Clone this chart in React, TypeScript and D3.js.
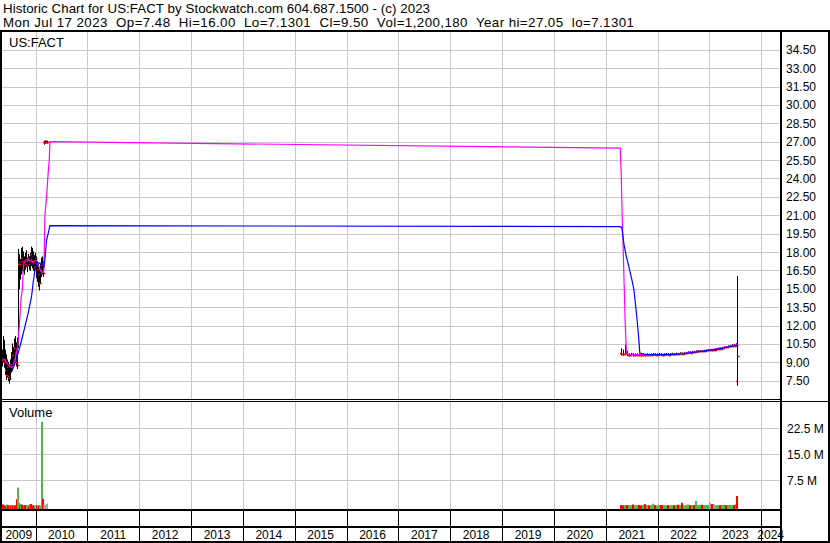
import React, {useEffect, useRef} from 'react';
import * as d3 from 'd3';

const headerLines = [
  'Historic Chart for US:FACT by Stockwatch.com 604.687.1500 - (c) 2023',
  'Mon Jul 17 2023  Op=7.48  Hi=16.00  Lo=7.1301  Cl=9.50  Vol=1,200,180  Year hi=27.05  lo=7.1301',
];
const headerWidths = [427, 631];
const symbol = 'US:FACT';
const years = [2009, 2010, 2011, 2012, 2013, 2014, 2015, 2016, 2017, 2018, 2019, 2020, 2021, 2022, 2023, 2024];
const priceTicks = [34.5, 33, 31.5, 30, 28.5, 27, 25.5, 24, 22.5, 21, 19.5, 18, 16.5, 15, 13.5, 12, 10.5, 9, 7.5];
const volumeTicks = [7.5, 15, 22.5]; // millions

// date, open, high, low, close, volume (millions)
const priceBars: [string, number, number, number, number, number][] = [
  ['2009-05-01', 9.5, 10.3, 8.9, 9.8, 0.4],
  ['2009-05-08', 9.8, 10.0, 8.7, 9.2, 0.1],
  ['2009-05-15', 9.2, 11.1, 9.0, 9.1, 0.4],
  ['2009-05-22', 9.1, 10.8, 8.6, 9.0, 0.08],
  ['2009-05-29', 9.0, 10.0, 8.0, 8.4, 0.06],
  ['2009-06-05', 8.4, 9.6, 7.6, 8.0, 0.05],
  ['2009-06-12', 8.0, 9.2, 7.8, 8.6, 0.35],
  ['2009-06-19', 8.6, 9.0, 7.5, 7.9, 0.08],
  ['2009-06-26', 7.9, 8.8, 7.3, 7.7, 0.15],
  ['2009-07-03', 7.7, 9.2, 7.6, 8.9, 0.06],
  ['2009-07-10', 8.9, 9.8, 8.2, 8.6, 0.05],
  ['2009-07-17', 8.6, 10.5, 8.4, 9.6, 0.2],
  ['2009-07-24', 9.6, 10.2, 8.6, 9.0, 0.06],
  ['2009-07-31', 9.0, 10.9, 8.8, 10.2, 0.2],
  ['2009-08-07', 10.2, 11.1, 9.4, 9.8, 0.08],
  ['2009-08-14', 9.8, 10.6, 8.7, 9.0, 0.06],
  ['2009-08-21', 9.0, 11.0, 8.5, 8.8, 1.9],
  ['2009-08-28', 10.6, 18.2, 10.2, 17.0, 5.3],
  ['2009-09-04', 17.0, 17.8, 15.0, 17.2, 0.9],
  ['2009-09-11', 17.2, 17.4, 15.8, 17.0, 0.1],
  ['2009-09-18', 17.0, 18.3, 16.2, 17.5, 0.5],
  ['2009-09-25', 17.5, 18.4, 16.5, 17.3, 0.3],
  ['2009-10-02', 17.3, 18.0, 16.4, 16.9, 0.08],
  ['2009-10-09', 16.9, 17.6, 16.2, 17.2, 0.06],
  ['2009-10-16', 17.2, 17.9, 16.6, 17.0, 0.2],
  ['2009-10-23', 17.0, 18.1, 16.8, 16.9, 0.2],
  ['2009-10-30', 16.9, 17.5, 16.4, 17.3, 0.06],
  ['2009-11-06', 17.3, 17.8, 16.9, 17.5, 0.05],
  ['2009-11-13', 17.5, 17.6, 16.6, 17.0, 0.06],
  ['2009-11-20', 17.0, 17.9, 16.5, 17.8, 0.5],
  ['2009-11-27', 17.8, 18.4, 16.9, 17.4, 0.5],
  ['2009-12-04', 17.4, 18.3, 16.7, 17.2, 0.06],
  ['2009-12-11', 17.2, 18.0, 16.5, 17.1, 0.1],
  ['2009-12-18', 17.1, 17.7, 16.2, 16.8, 0.05],
  ['2009-12-25', 16.8, 17.9, 16.6, 17.5, 0.04],
  ['2010-01-01', 17.5, 17.6, 16.3, 17.1, 0.05],
  ['2010-01-08', 17.1, 17.4, 15.9, 17.1, 0.2],
  ['2010-01-15', 17.1, 17.2, 15.6, 16.6, 0.06],
  ['2010-01-22', 16.6, 17.0, 15.2, 16.6, 0.2],
  ['2010-01-29', 16.2, 16.6, 14.9, 15.5, 0.06],
  ['2010-02-05', 15.5, 17.0, 15.5, 16.5, 0.05],
  ['2010-02-12', 16.5, 17.5, 16.0, 16.9, 0.08],
  ['2010-02-19', 16.9, 17.6, 16.2, 17.0, 24.4],
  ['2010-02-26', 17.0, 17.2, 16.0, 16.3, 2.0],
  ['2010-03-05', 27.0, 27.05, 26.8, 27.0, 0.3],
  ['2010-03-12', 27.0, 27.05, 26.9, 27.0, 0.1],
  ['2010-03-19', 27.0, 27.05, 26.9, 27.0, 0.3],
  ['2010-03-26', 27.0, 27.05, 26.9, 27.0, 0.6],
  ['2021-04-16', 9.75, 10.1, 9.6, 9.7, 0.2],
  ['2021-04-30', 9.7, 10.0, 9.58, 9.66, 0.15],
  ['2021-05-14', 9.66, 10.4, 9.62, 9.72, 0.25],
  ['2021-05-28', 9.72, 9.9, 9.55, 9.6, 0.2],
  ['2021-06-11', 9.6, 9.7, 9.52, 9.62, 0.25],
  ['2021-06-25', 9.62, 9.72, 9.55, 9.64, 0.18],
  ['2021-07-09', 9.64, 9.7, 9.5, 9.57, 0.4],
  ['2021-07-23', 9.57, 9.68, 9.54, 9.6, 0.2],
  ['2021-08-06', 9.6, 9.7, 9.55, 9.62, 0.18],
  ['2021-08-20', 9.62, 9.66, 9.52, 9.58, 0.22],
  ['2021-09-03', 9.58, 9.65, 9.5, 9.56, 0.15],
  ['2021-09-17', 9.56, 9.68, 9.54, 9.61, 0.2],
  ['2021-10-01', 9.61, 9.66, 9.52, 9.58, 0.5],
  ['2021-10-15', 9.58, 9.7, 9.56, 9.62, 0.2],
  ['2021-10-29', 9.62, 9.67, 9.55, 9.59, 0.15],
  ['2021-11-12', 9.59, 9.68, 9.56, 9.6, 0.18],
  ['2021-11-26', 9.6, 9.72, 9.58, 9.65, 0.6],
  ['2021-12-10', 9.65, 9.68, 9.55, 9.6, 0.2],
  ['2021-12-24', 9.6, 9.7, 9.57, 9.63, 0.15],
  ['2022-01-07', 9.63, 9.72, 9.58, 9.64, 0.2],
  ['2022-01-21', 9.64, 9.68, 9.56, 9.61, 0.22],
  ['2022-02-04', 9.61, 9.66, 9.55, 9.6, 0.18],
  ['2022-02-18', 9.6, 9.7, 9.58, 9.64, 0.2],
  ['2022-03-04', 9.64, 9.72, 9.6, 9.66, 0.15],
  ['2022-03-18', 9.66, 9.7, 9.58, 9.62, 0.2],
  ['2022-04-01', 9.62, 9.72, 9.6, 9.65, 0.18],
  ['2022-04-15', 9.65, 9.74, 9.62, 9.67, 0.2],
  ['2022-04-29', 9.67, 9.72, 9.6, 9.65, 0.15],
  ['2022-05-13', 9.65, 9.75, 9.63, 9.69, 0.25],
  ['2022-05-27', 9.69, 9.74, 9.64, 9.68, 0.3],
  ['2022-06-10', 9.68, 9.78, 9.66, 9.72, 0.25],
  ['2022-06-24', 9.72, 9.76, 9.64, 9.7, 0.9],
  ['2022-07-08', 9.7, 9.8, 9.68, 9.75, 0.2],
  ['2022-07-22', 9.75, 9.82, 9.7, 9.78, 0.2],
  ['2022-08-05', 9.78, 9.85, 9.74, 9.81, 0.4],
  ['2022-08-19', 9.81, 9.86, 9.76, 9.8, 0.2],
  ['2022-09-02', 9.8, 9.9, 9.78, 9.85, 0.22],
  ['2022-09-16', 9.85, 9.9, 9.8, 9.84, 0.2],
  ['2022-09-30', 9.84, 9.94, 9.82, 9.89, 1.4],
  ['2022-10-14', 9.89, 9.94, 9.84, 9.9, 0.25],
  ['2022-10-28', 9.9, 9.96, 9.86, 9.92, 0.3],
  ['2022-11-11', 9.92, 9.96, 9.87, 9.91, 0.3],
  ['2022-11-25', 9.91, 9.99, 9.89, 9.95, 0.22],
  ['2022-12-09', 9.95, 10.0, 9.92, 9.97, 0.2],
  ['2022-12-23', 9.97, 10.02, 9.93, 9.98, 0.25],
  ['2023-01-06', 9.98, 10.04, 9.95, 9.98, 0.9],
  ['2023-01-20', 9.98, 10.05, 9.94, 9.97, 0.5],
  ['2023-02-03', 9.97, 10.06, 9.95, 9.97, 0.5],
  ['2023-02-17', 9.97, 10.12, 9.96, 10.08, 0.2],
  ['2023-03-03', 10.08, 10.16, 10.05, 10.12, 0.18],
  ['2023-03-17', 10.12, 10.18, 10.08, 10.11, 0.2],
  ['2023-03-31', 10.11, 10.22, 10.09, 10.18, 0.25],
  ['2023-04-14', 10.18, 10.25, 10.14, 10.22, 0.3],
  ['2023-04-28', 10.22, 10.28, 10.18, 10.21, 0.2],
  ['2023-05-12', 10.21, 10.34, 10.2, 10.3, 0.22],
  ['2023-05-26', 10.3, 10.38, 10.27, 10.33, 0.3],
  ['2023-06-09', 10.33, 10.44, 10.3, 10.37, 0.2],
  ['2023-06-23', 10.37, 10.48, 10.35, 10.36, 0.25],
  ['2023-07-07', 10.36, 10.52, 10.34, 10.45, 0.5],
  ['2023-07-17', 7.48, 16.0, 7.1301, 9.5, 2.85],
];

// short moving average (magenta)
const shortAverage: [string, number][] = [
  ['2009-05-14', 9.3], ['2009-05-31', 9.2], ['2009-06-21', 8.8], ['2009-07-12', 8.6],
  ['2009-07-26', 8.6], ['2009-08-09', 9.2], ['2009-08-30', 10.4], ['2009-09-13', 12.7],
  ['2009-09-20', 14.1], ['2009-10-01', 15.0], ['2009-10-06', 16.5], ['2009-10-11', 17.1],
  ['2009-11-01', 17.4], ['2009-11-22', 17.3], ['2009-12-13', 17.2], ['2010-01-04', 17.3],
  ['2010-01-25', 16.8], ['2010-02-15', 16.3], ['2010-03-01', 16.5], ['2010-03-08', 20.9],
  ['2010-03-20', 22.5], ['2010-03-31', 24.4], ['2010-04-08', 25.5], ['2010-04-13', 27.0],
  ['2021-04-12', 26.47], ['2021-04-19', 24.4], ['2021-04-26', 21.0], ['2021-05-03', 18.3],
  ['2021-05-10', 15.3], ['2021-05-17', 12.3], ['2021-05-26', 9.7], ['2021-07-01', 9.62],
  ['2021-10-01', 9.6], ['2022-01-01', 9.62], ['2022-04-01', 9.65], ['2022-07-01', 9.74],
  ['2022-09-15', 9.86], ['2022-12-01', 9.96], ['2023-02-01', 10.07], ['2023-04-01', 10.2],
  ['2023-05-15', 10.3], ['2023-06-15', 10.38], ['2023-07-10', 10.45], ['2023-07-17', 10.4],
];

// long moving average (blue)
const longAverage: [string, number][] = [
  ['2009-07-17', 8.23], ['2009-08-09', 8.9], ['2009-09-01', 9.75], ['2009-09-25', 10.8],
  ['2009-10-18', 11.9], ['2009-11-10', 13.0], ['2009-12-04', 14.35], ['2009-12-15', 15.45],
  ['2009-12-28', 16.5], ['2010-01-09', 17.2], ['2010-01-20', 17.1], ['2010-02-13', 17.1],
  ['2010-03-01', 16.8], ['2010-03-08', 17.35], ['2010-03-20', 19.0], ['2010-03-31', 19.5],
  ['2010-04-13', 20.15], ['2021-04-11', 20.07], ['2021-04-23', 20.0], ['2021-04-30', 19.4],
  ['2021-05-09', 18.6], ['2021-05-23', 17.76], ['2021-06-06', 17.1], ['2021-06-20', 16.4],
  ['2021-07-04', 15.7], ['2021-07-18', 14.9], ['2021-07-28', 13.8], ['2021-08-07', 12.7],
  ['2021-08-16', 11.6], ['2021-08-23', 10.6], ['2021-08-28', 9.75], ['2021-10-01', 9.65],
  ['2022-01-01', 9.62], ['2022-04-01', 9.63], ['2022-07-01', 9.7], ['2022-09-15', 9.82],
  ['2022-12-01', 9.93], ['2023-02-01', 10.03], ['2023-04-01', 10.15], ['2023-05-15', 10.25],
  ['2023-06-15', 10.33], ['2023-07-17', 10.4],
];

const FONT = "'Liberation Sans', Arial, sans-serif";

export default function App() {
  const svgRef = useRef<SVGSVGElement>(null);

  useEffect(() => {
    if (!svgRef.current) return;
    const root = d3.select(svgRef.current);
    root.selectAll('*').remove();

    const W = 830;
    const H = 543;
    const left = 2;
    const right = 780;
    const priceTop = 32;
    const priceBottom = 399;
    const volTop = 402;
    const volBottom = 509;

    const parse = d3.utcParse('%Y-%m-%d');
    const yearDate = (y: number) => new Date(Date.UTC(y, 0, 1));

    const x = d3.scaleUtc().domain([yearDate(2010), yearDate(2024)]).range([35.5, 761.3]);
    const y = d3.scaleLinear().domain([7.5, 27]).range([380.7, 141.7]);
    const yv = d3.scaleLinear().domain([7.5, 22.5]).range([480, 428.4]);

    root.append('rect').attr('width', W).attr('height', H).attr('fill', '#fff');

    const defs = root.append('defs');
    defs.append('clipPath').attr('id', 'price-clip').append('rect')
      .attr('x', left).attr('y', priceTop).attr('width', right - left).attr('height', priceBottom - priceTop);
    defs.append('clipPath').attr('id', 'vol-clip').append('rect')
      .attr('x', left).attr('y', volTop).attr('width', right - left).attr('height', volBottom - volTop);

    // Grid
    const grid = root.append('g').attr('stroke', '#c8c8c8').attr('stroke-width', 1);
    priceTicks.forEach((t) => {
      const yy = Math.round(y(t)) + 0.5;
      grid.append('line').attr('x1', left).attr('x2', right).attr('y1', yy).attr('y2', yy);
    });
    volumeTicks.forEach((t) => {
      const yy = Math.round(yv(t)) + 0.5;
      grid.append('line').attr('x1', left).attr('x2', right).attr('y1', yy).attr('y2', yy);
    });
    years.slice(1).forEach((yr) => {
      const xx = Math.round(x(yearDate(yr))) + 0.5;
      grid.append('line').attr('x1', xx).attr('x2', xx).attr('y1', priceTop).attr('y2', priceBottom);
      grid.append('line').attr('x1', xx).attr('x2', xx).attr('y1', volTop).attr('y2', volBottom);
    });

    // Price bars
    const bars = root.append('g').attr('clip-path', 'url(#price-clip)');
    priceBars.forEach(([d, o, h, l, c]) => {
      const xx = Math.round(x(parse(d)!)) + 0.5;
      bars.append('line').attr('x1', xx).attr('x2', xx)
        .attr('y1', y(h) - 0.5).attr('y2', y(l) + 0.5)
        .attr('stroke', '#000').attr('stroke-width', 1);
      bars.append('line').attr('x1', xx - 1.5).attr('x2', xx)
        .attr('y1', Math.round(y(o)) + 0.5).attr('y2', Math.round(y(o)) + 0.5)
        .attr('stroke', '#ff0000').attr('stroke-width', 1.5);
      bars.append('line').attr('x1', xx).attr('x2', xx + 2)
        .attr('y1', Math.round(y(c)) + 0.5).attr('y2', Math.round(y(c)) + 0.5)
        .attr('stroke', '#ff0000').attr('stroke-width', 1.5);
    });

    // Moving averages
    const line = d3.line<[string, number]>()
      .x((d) => x(parse(d[0])!))
      .y((d) => y(d[1]));
    bars.append('path').datum(shortAverage).attr('d', line)
      .attr('fill', 'none').attr('stroke', '#ff00ff').attr('stroke-width', 1.2);
    bars.append('path').datum(longAverage).attr('d', line)
      .attr('fill', 'none').attr('stroke', '#0000ff').attr('stroke-width', 1.2);

    // Volume
    const vol = root.append('g').attr('clip-path', 'url(#vol-clip)');
    priceBars.forEach(([d, , , , c, v], i) => {
      const prev = i > 0 ? priceBars[i - 1][4] : c - 1;
      const color = c > prev ? '#4cbb4c' : c < prev ? '#ff0000' : '#a8a8a8';
      const xx = Math.round(x(parse(d)!));
      const top = yv(v);
      vol.append('rect').attr('x', xx - 1).attr('width', 2)
        .attr('y', top).attr('height', Math.max(0, volBottom - top))
        .attr('fill', color);
    });

    // Frame
    const frame = root.append('g').attr('fill', '#000');
    frame.append('rect').attr('x', 0).attr('y', 30).attr('width', W).attr('height', 2);
    frame.append('rect').attr('x', 0).attr('y', 30).attr('width', 2).attr('height', H - 30);
    frame.append('rect').attr('x', right).attr('y', 30).attr('width', 2).attr('height', H - 30);
    frame.append('rect').attr('x', W - 2).attr('y', 30).attr('width', 2).attr('height', H - 30);
    frame.append('rect').attr('x', 0).attr('y', H - 2).attr('width', W).attr('height', 2);
    frame.append('rect').attr('x', 0).attr('y', 399).attr('width', right).attr('height', 1);
    frame.append('rect').attr('x', 0).attr('y', 401).attr('width', right).attr('height', 1);
    frame.append('rect').attr('x', right).attr('y', 401).attr('width', W - right).attr('height', 1);
    frame.append('rect').attr('x', 0).attr('y', volBottom).attr('width', right).attr('height', 2);
    frame.append('rect').attr('x', 0).attr('y', 526).attr('width', right).attr('height', 2);
    years.slice(1).forEach((yr) => {
      const xx = Math.round(x(yearDate(yr)));
      frame.append('rect').attr('x', xx).attr('y', 511).attr('width', 1).attr('height', 30);
    });

    // Text
    const text = root.append('g').attr('font-family', FONT).attr('fill', '#000');
    headerLines.forEach((s, i) => {
      text.append('text').attr('x', 3).attr('y', 12.5 + i * 14)
        .attr('font-size', 13.3).style('white-space', 'pre')
        .attr('textLength', headerWidths[i]).attr('lengthAdjust', 'spacing')
        .text(s);
    });
    text.append('text').attr('x', 9).attr('y', 47).attr('font-size', 13).text(symbol);
    text.append('text').attr('x', 9).attr('y', 417).attr('font-size', 13).text('Volume');

    priceTicks.forEach((t) => {
      text.append('text').attr('x', 786).attr('y', y(t) + 4.5)
        .attr('font-size', 12).text(t.toFixed(2));
    });
    volumeTicks.forEach((t) => {
      text.append('text').attr('x', 787).attr('y', yv(t) + 4.5)
        .attr('font-size', 12).text(`${t.toFixed(1)} M`);
    });

    years.forEach((yr) => {
      const a = Math.max(left, x(yearDate(yr)));
      const b = Math.min(right, x(yearDate(yr + 1)));
      text.append('text').attr('x', (a + b) / 2).attr('y', 539)
        .attr('text-anchor', 'middle').attr('font-size', 12).text(String(yr));
    });
  }, []);

  return (
    <svg
      ref={svgRef}
      width={830}
      height={543}
      style={{position: 'absolute', left: 0, top: 0, display: 'block'}}
    />
  );
}
